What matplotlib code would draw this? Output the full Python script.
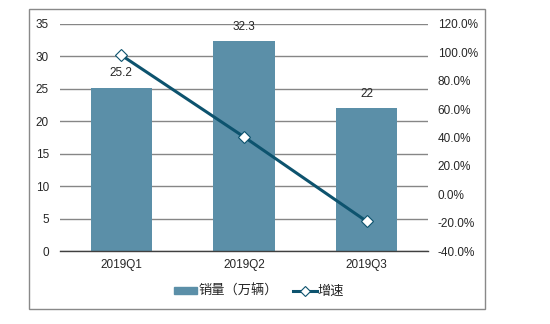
import matplotlib
matplotlib.use("Agg")
import matplotlib.pyplot as plt
from matplotlib.patches import Rectangle
from matplotlib.lines import Line2D
from matplotlib.ticker import FuncFormatter

plt.rcParams['font.family'] = ['Liberation Sans', 'Noto Sans CJK SC', 'DejaVu Sans']

quarters = ["2019Q1", "2019Q2", "2019Q3"]
sales = [25.2, 32.3, 22]          # 销量（万辆）
growth = [98.0, 40.5, -19.0]      # 增速 (%)

bar_color = "#5B8FA8"
line_color = "#0D536E"
grid_color = "#868686"
text_color = "#262626"

fig = plt.figure(figsize=(5.5, 3.24), dpi=100)
fig.patches.append(Rectangle((0.053, 0.046), 0.829, 0.926, transform=fig.transFigure,
                             fill=False, edgecolor="#898989", linewidth=1.0))

ax = fig.add_axes([0.109, 0.225, 0.669, 0.701])
x = range(len(quarters))
ax.bar(x, sales, width=0.5, color=bar_color, zorder=2)
ax.set_xlim(-0.5, 2.5)
ax.set_ylim(0, 35)
ax.set_yticks(range(0, 36, 5))
ax.yaxis.grid(True, color=grid_color, linewidth=1.0, zorder=0)
ax.set_axisbelow(True)
for s in ("left", "right", "top"):
    ax.spines[s].set_visible(False)
ax.spines["bottom"].set_color("#404040")
ax.spines["bottom"].set_linewidth(1.0)
ax.tick_params(axis="both", length=0, labelsize=8.5, colors=text_color)
ax.tick_params(axis="y", pad=8)
ax.tick_params(axis="x", pad=6)
ax.set_xticks(list(x))
ax.set_xticklabels(quarters)

for xi, v in zip(x, sales):
    ax.annotate(f"{v:g}", (xi, v), xytext=(0, 6), textcoords="offset points",
                ha="center", va="bottom", fontsize=8.5, color=text_color)

ax2 = ax.twinx()
ax2.set_ylim(-40, 120)
ax2.set_yticks(range(-40, 121, 20))
ax2.yaxis.set_major_formatter(FuncFormatter(lambda v, p: f"{v:.1f}%"))
for s in ax2.spines.values():
    s.set_visible(False)
ax2.tick_params(axis="y", length=0, labelsize=8.5, colors=text_color, pad=7)
ax2.plot(list(x), growth, color=line_color, linewidth=2.2, marker="D", markersize=6,
         markerfacecolor="white", markeredgecolor=line_color, markeredgewidth=0.8, zorder=3)

handles = [Rectangle((0, 0), 1, 1, color=bar_color),
           Line2D([], [], color=line_color, linewidth=2.2, marker="D", markersize=5,
                  markerfacecolor="white", markeredgecolor=line_color, markeredgewidth=0.8)]
leg = fig.legend(handles, ["销量（万辆）", "增速"], loc="center", bbox_to_anchor=(0.471, 0.10),
                 ncol=2, frameon=False, fontsize=9.5, handlelength=1.8, handleheight=0.55,
                 columnspacing=1.1, handletextpad=0.1)
for t in leg.get_texts():
    t.set_color(text_color)

fig.savefig("out.png", dpi=100)
